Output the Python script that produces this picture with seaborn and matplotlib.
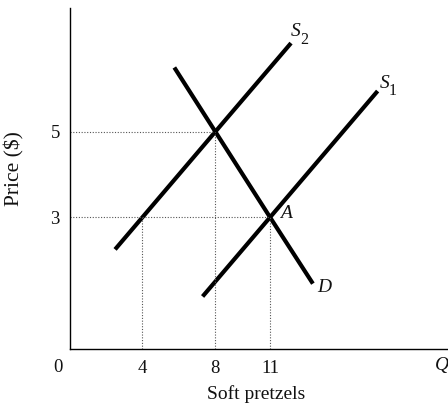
import matplotlib
matplotlib.use("Agg")
import matplotlib.pyplot as plt
import seaborn as sns
import pandas as pd

# Data
s1_q = [7.3, 11.0, 16.9]
s1_p = [1.15, 3.0, 5.95]
s2_q = [2.5, 4.0, 8.0, 12.15]
s2_p = [2.25, 3.0, 5.0, 7.07]
d_q = [5.75, 8.0, 11.0, 13.35]
d_p = [6.5, 5.0, 3.0, 1.45]
x_ticks = [4, 8, 11]
y_ticks = [3, 5]
eq_points = [(8, 5), (11, 3)]
guide_q = [4, 8, 11]
guide_p = [3, 5, 3]

sns.set_theme(style="white")
plt.rcParams["font.family"] = ["Liberation Serif", "DejaVu Serif"]

fig = plt.figure(figsize=(4.48, 4.07), dpi=100)
ax = fig.add_axes([69.5 / 448, 1 - 349 / 407, 1 - 69.5 / 448, (349 - 8) / 407])

df = pd.concat([
    pd.DataFrame({"q": s1_q, "p": s1_p, "curve": "S1"}),
    pd.DataFrame({"q": s2_q, "p": s2_p, "curve": "S2"}),
    pd.DataFrame({"q": d_q, "p": d_p, "curve": "D"}),
])
for name, sub in df.groupby("curve"):
    sns.lineplot(data=sub, x="q", y="p", ax=ax, color="black", lw=3.0,
                 sort=False, estimator=None, legend=False,
                 solid_capstyle="butt")

# dotted guides
for q, p in zip(guide_q, guide_p):
    ax.plot([q, q], [-0.08, p], ls=(0, (1, 1.5)), color="#555555", lw=0.8)
for q, p in eq_points:
    ax.plot([0, q], [p, p], ls=(0, (1, 1.5)), color="#555555", lw=0.8)

ax.set_xlim(0, 20.76)
ax.set_ylim(-0.077, 7.89)
ax.set_xticks(x_ticks)
ax.set_xticklabels([str(v) for v in x_ticks])
ax.set_yticks(y_ticks)
ax.set_yticklabels([str(v) for v in y_ticks])
ax.tick_params(axis="both", length=0, labelsize=13.5, colors="#111111")
ax.tick_params(axis="x", pad=8)
ax.tick_params(axis="y", pad=7)
for side in ["top", "right"]:
    ax.spines[side].set_visible(False)
for side in ["left", "bottom"]:
    ax.spines[side].set_color("black")
    ax.spines[side].set_linewidth(1.0)

ax.set_xlabel("Soft pretzels", fontsize=14, color="#111111")
ax.xaxis.set_label_coords(0.493, -0.105)
ax.set_ylabel("Price ($)", fontsize=15.5, color="#111111")
ax.yaxis.set_label_coords(-0.12, 0.53)

fs = 14
sub_fs = 11.5
it = dict(fontstyle="italic", ha="center", va="center", color="#111111")
ax.text(12.40, 7.34, "S", fontsize=fs, **it)
ax.text(12.86, 7.15, "2", fontsize=sub_fs, ha="center", va="center", color="#111111")
ax.text(17.28, 6.13, "S", fontsize=fs, **it)
ax.text(17.71, 5.95, "1", fontsize=sub_fs, ha="center", va="center", color="#111111")
ax.text(11.88, 3.1, "A", fontsize=fs, **it)
ax.text(14.0, 1.37, "D", fontsize=fs, **it)
ax.text(20.45, -0.47, "Q", fontsize=fs, fontstyle="italic", ha="center",
        va="center", color="#111111", clip_on=False)
ax.text(-0.63, -0.5, "0", fontsize=13.5, ha="center", va="center", color="#111111")

fig.savefig("out.png", dpi=100)
